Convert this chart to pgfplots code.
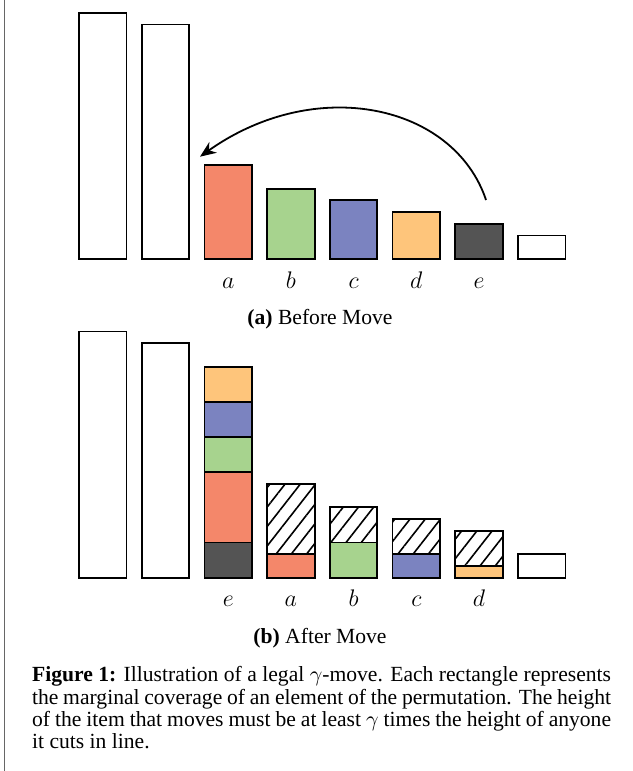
\documentclass[border=0pt]{standalone}
\usepackage{pgfplots}
\pgfplotsset{compat=1.18}
\usepackage{pgfplotstable}
\usepackage{fontspec}
\setmainfont{Liberation Serif}
\usetikzlibrary{arrows.meta,patterns.meta}

\definecolor{cRed}{HTML}{F4876A}
\definecolor{cGreen}{HTML}{A7D38E}
\definecolor{cBlue}{HTML}{7B83C0}
\definecolor{cOrange}{HTML}{FEC57B}
\definecolor{cDark}{HTML}{545454}

% After the move: stacked segments per position
\pgfplotstableread{
x white dark red green blue orange hatch
0 21 0 0 0 0 0 0
1 20 0 0 0 0 0 0
2 0  3 6 3 3 3 0
3 0  0 2 0 0 0 6
4 0  0 0 3 0 0 3
5 0  0 0 0 2 0 3
6 0  0 0 0 0 1 3
7 2  0 0 0 0 0 0
}\aftermove

\pgfplotsset{
  movechart/.style={
    anchor=origin,
    x=31.35pt, y=5.86pt,
    xmin=-0.5, xmax=7.5, ymin=0, ymax=22,
    enlargelimits=false,
    clip=false,
    axis line style={draw=none},
    tick style={draw=none},
    ytick=\empty, xtick=\empty,
    bar width=23.75pt,
  },
  barstyle/.style={draw=black, line width=0.9pt},
}
\tikzset{catlabel/.style={anchor=base, yshift=-14.65pt, inner sep=0pt, font=\fontsize{12}{14}\selectfont}}

\begin{document}
\begin{tikzpicture}
\path[use as bounding box] (0,0) rectangle (316pt,385.5pt);
\draw[black!60, line width=0.5pt] (2pt,0) -- (2pt,385.5pt);

% (a) Before Move
\begin{axis}[movechart, at={(51.4pt,256pt)}, ybar,
  every axis plot/.append style={bar shift=0pt, barstyle}]
\addplot[fill=white] coordinates {(0,21) (1,20) (7,2)};
\addplot[fill=cRed] coordinates {(2,8)};
\addplot[fill=cGreen] coordinates {(3,6)};
\addplot[fill=cBlue] coordinates {(4,5)};
\addplot[fill=cOrange] coordinates {(5,4)};
\addplot[fill=cDark] coordinates {(6,3)};
\node[catlabel] at (axis cs:2,0) {$a$};
\node[catlabel] at (axis cs:3,0) {$b$};
\node[catlabel] at (axis cs:4,0) {$c$};
\node[catlabel] at (axis cs:5,0) {$d$};
\node[catlabel] at (axis cs:6,0) {$e$};
\draw[line width=0.9pt, -{Stealth[length=8pt,width=6.5pt,inset=2.5pt]}]
  (axis cs:6.112,5.034) .. controls (axis cs:5.60,13.2) and (axis cs:3.40,15.75) .. (axis cs:1.550,8.729);
\end{axis}

% (b) After Move
\begin{axis}[movechart, at={(51.4pt,96.65pt)}, ybar stacked,
  every axis plot/.append style={barstyle}]
\addplot[fill=white] table[x=x,y=white] {\aftermove};
\addplot[fill=cDark] table[x=x,y=dark] {\aftermove};
\addplot[fill=cRed] table[x=x,y=red] {\aftermove};
\addplot[fill=cGreen] table[x=x,y=green] {\aftermove};
\addplot[fill=cBlue] table[x=x,y=blue] {\aftermove};
\addplot[fill=cOrange] table[x=x,y=orange] {\aftermove};
\addplot[pattern={Lines[angle=52,distance=6pt,line width=0.8pt]}, pattern color=black] table[x=x,y=hatch] {\aftermove};
\node[catlabel] at (axis cs:2,0) {$e$};
\node[catlabel] at (axis cs:3,0) {$a$};
\node[catlabel] at (axis cs:4,0) {$b$};
\node[catlabel] at (axis cs:5,0) {$c$};
\node[catlabel] at (axis cs:6,0) {$d$};
\end{axis}

\node[anchor=base, inner sep=0pt, font=\fontsize{10.8}{13}\selectfont] at (160pt,223pt) {\textbf{(a)} Before Move};
\node[anchor=base, inner sep=0pt, font=\fontsize{10.8}{13}\selectfont] at (160pt,63.5pt) {\textbf{(b)} After Move};

\node[anchor=base west, inner sep=0pt, text width=289.5pt, align=justify,
  font=\fontsize{10.8}{11.1}\selectfont] at (15.85pt,44.5pt)
{\textbf{Figure 1:} Illustration of a legal $\gamma$-move. Each rectangle represents\linebreak
the marginal coverage of an element of the permutation. The height\linebreak
of the item that moves must be at least $\gamma$ times the height of anyone\linebreak
it cuts in line.};
\end{tikzpicture}
\end{document}
